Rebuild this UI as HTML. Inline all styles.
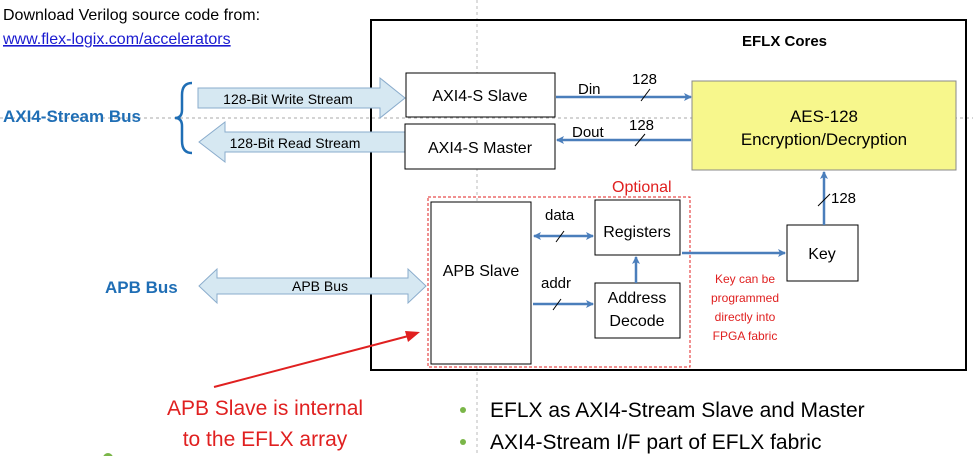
<!DOCTYPE html>
<html><head><meta charset="utf-8"><style>
html,body{margin:0;padding:0;background:#fff;}
svg{display:block;font-family:"Liberation Sans",sans-serif;}
</style></head><body>
<svg width="973" height="456" viewBox="0 0 973 456" xmlns="http://www.w3.org/2000/svg">
<defs>
<marker id="ah" markerWidth="8" markerHeight="8" refX="7" refY="4" orient="auto" markerUnits="userSpaceOnUse"><path d="M0,0 L8,4 L0,8 L2,4 Z" fill="#4a7ebb"/></marker>
<marker id="ahs" markerWidth="8" markerHeight="8" refX="1" refY="4" orient="auto" markerUnits="userSpaceOnUse"><path d="M8,0 L0,4 L8,8 L6,4 Z" fill="#4a7ebb"/></marker>
</defs>
<line x1="477" y1="0" x2="477" y2="456" stroke="#bbb" stroke-dasharray="3,3"/>
<line x1="0" y1="118" x2="973" y2="118" stroke="#aaa" stroke-dasharray="3,3"/>
<text x="3" y="20" font-size="16">Download Verilog source code from:</text>
<text x="3" y="44" font-size="16" fill="#1a1ad0" text-decoration="underline">www.flex-logix.com/accelerators</text>
<rect x="371" y="20" width="595" height="350" fill="none" stroke="#000" stroke-width="2"/>
<text x="742" y="46" font-size="15" font-weight="bold">EFLX Cores</text>
<text x="3" y="122" font-size="17" font-weight="bold" fill="#1f6eb5">AXI4-Stream Bus</text>
<path d="M192,83 Q182,83 182,95 L182,110 Q182,118 175,118 Q182,118 182,126 L182,141 Q182,153 192,153" fill="none" stroke="#1f6eb5" stroke-width="2.5"/>
<path d="M198,88 L380,88 L380,78 L405,98 L380,118 L380,108 L198,108 Z" fill="#d6e8f2" stroke="#8aaccc"/>
<text x="288" y="104" font-size="14" text-anchor="middle">128-Bit Write Stream</text>
<path d="M405,132 L225,132 L225,122 L199,142 L225,162 L225,152 L405,152 Z" fill="#d6e8f2" stroke="#8aaccc"/>
<text x="295" y="148" font-size="14" text-anchor="middle">128-Bit Read Stream</text>
<rect x="406" y="73" width="149" height="44" fill="#fff" stroke="#000"/>
<text x="480" y="101" font-size="16" text-anchor="middle">AXI4-S Slave</text>
<rect x="405" y="124" width="150" height="45" fill="#fff" stroke="#000"/>
<text x="480" y="153" font-size="16" text-anchor="middle">AXI4-S Master</text>
<rect x="692" y="81" width="264" height="89" fill="#f7f78c" stroke="#888"/>
<text x="824" y="122" font-size="17" text-anchor="middle">AES-128</text>
<text x="824" y="145" font-size="17" text-anchor="middle">Encryption/Decryption</text>
<line x1="556" y1="97" x2="691" y2="97" stroke="#4a7ebb" stroke-width="2.5" marker-end="url(#ah)"/>
<text x="578" y="94" font-size="15">Din</text><text x="632" y="84" font-size="15">128</text>
<line x1="641" y1="101" x2="650" y2="89" stroke="#000"/>
<line x1="691" y1="140" x2="557" y2="140" stroke="#4a7ebb" stroke-width="2.5" marker-end="url(#ah)"/>
<text x="572" y="137" font-size="15">Dout</text><text x="629" y="130" font-size="15">128</text>
<line x1="635" y1="146" x2="645" y2="134" stroke="#000"/>
<rect x="787" y="225" width="71" height="56" fill="#fff" stroke="#000"/>
<text x="822" y="259" font-size="16" text-anchor="middle">Key</text>
<line x1="824" y1="225" x2="824" y2="172" stroke="#4a7ebb" stroke-width="2.5" marker-end="url(#ah)"/>
<text x="831" y="203" font-size="15">128</text>
<line x1="818" y1="206" x2="830" y2="194" stroke="#000"/>
<rect x="428" y="197" width="262" height="170" fill="none" stroke="#e02020" stroke-dasharray="3,2"/>
<text x="612" y="192" font-size="16" fill="#e02020">Optional</text>
<rect x="431" y="202" width="100" height="162" fill="#fff" stroke="#000"/>
<text x="481" y="276" font-size="16" text-anchor="middle">APB Slave</text>
<rect x="595" y="200" width="85" height="55" fill="#fff" stroke="#000"/>
<text x="637" y="237" font-size="16" text-anchor="middle">Registers</text>
<rect x="595" y="283" width="85" height="55" fill="#fff" stroke="#000"/>
<text x="637" y="303" font-size="16" text-anchor="middle">Address</text>
<text x="637" y="326" font-size="16" text-anchor="middle">Decode</text>
<line x1="534" y1="236" x2="593" y2="236" stroke="#4a7ebb" stroke-width="2.5" marker-end="url(#ah)" marker-start="url(#ahs)"/>
<text x="545" y="220" font-size="15">data</text>
<line x1="556" y1="242" x2="564" y2="231" stroke="#000"/>
<line x1="533" y1="304" x2="593" y2="304" stroke="#4a7ebb" stroke-width="2.5" marker-end="url(#ah)"/>
<text x="541" y="288" font-size="15">addr</text>
<line x1="553" y1="310" x2="561" y2="299" stroke="#000"/>
<line x1="636" y1="283" x2="636" y2="257" stroke="#4a7ebb" stroke-width="2.5" marker-end="url(#ah)"/>
<line x1="682" y1="253" x2="785" y2="253" stroke="#4a7ebb" stroke-width="2.5" marker-end="url(#ah)"/>
<g font-size="12" fill="#e02020" text-anchor="middle">
<text x="745" y="283">Key can be</text><text x="745" y="302">programmed</text>
<text x="745" y="321">directly into</text><text x="745" y="340">FPGA fabric</text></g>
<text x="105" y="293" font-size="17" font-weight="bold" fill="#1f6eb5">APB Bus</text>
<path d="M199,286 L217,269 L217,278 L408,278 L408,269 L426,286 L408,303 L408,294 L217,294 L217,303 Z" fill="#d6e8f2" stroke="#8aaccc"/>
<text x="320" y="291" font-size="14" text-anchor="middle">APB Bus</text>
<line x1="214" y1="387" x2="416" y2="334" stroke="#e02020" stroke-width="2"/>
<path d="M420,332 L405,331 L408,342 Z" fill="#e02020"/>
<g font-size="21" fill="#e02020" text-anchor="middle">
<text x="265" y="415">APB Slave is internal</text><text x="265" y="446">to the EFLX array</text></g>
<circle cx="463" cy="410" r="3" fill="#7ab648"/><circle cx="463" cy="442" r="3" fill="#7ab648"/>
<circle cx="108" cy="458" r="5" fill="#7ab648"/>
<g font-size="21"><text x="490" y="417">EFLX as AXI4-Stream Slave and Master</text>
<text x="490" y="449">AXI4-Stream I/F part of EFLX fabric</text></g>
</svg>
</body></html>
